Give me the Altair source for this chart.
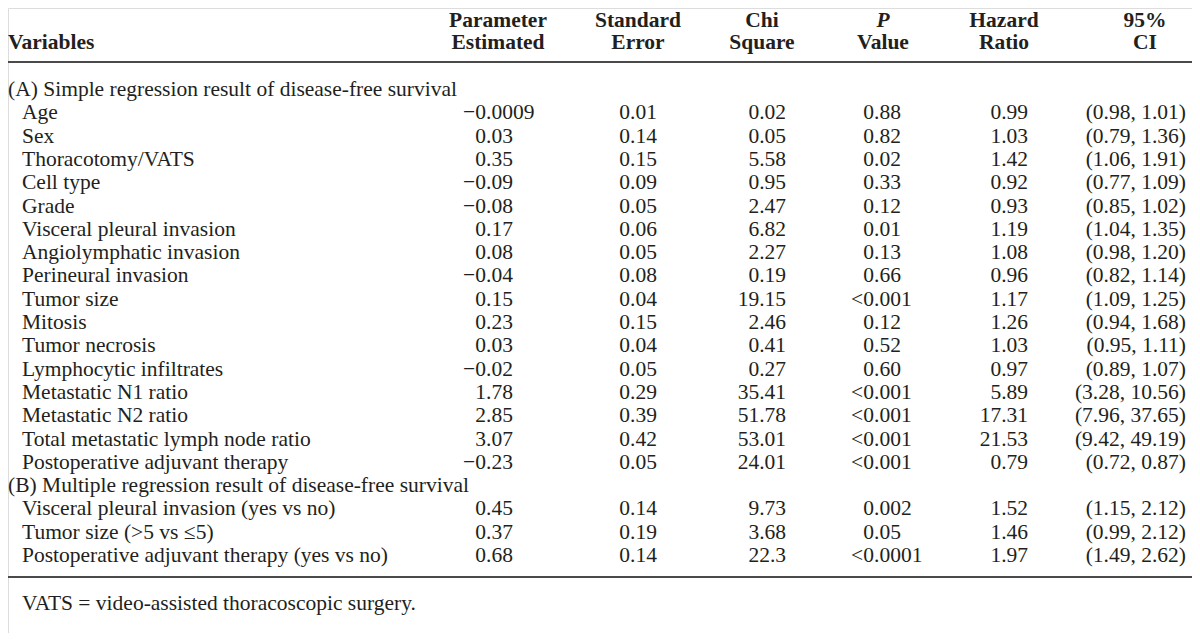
import altair as alt
import pandas as pd

# ---------------- data ----------------
section_a = "(A) Simple regression result of disease-free survival"
section_b = "(B) Multiple regression result of disease-free survival"

vars_a = ["Age", "Sex", "Thoracotomy/VATS", "Cell type", "Grade",
          "Visceral pleural invasion", "Angiolymphatic invasion",
          "Perineural invasion", "Tumor size", "Mitosis", "Tumor necrosis",
          "Lymphocytic infiltrates", "Metastatic N1 ratio", "Metastatic N2 ratio",
          "Total metastatic lymph node ratio", "Postoperative adjuvant therapy"]
param_a = ["\u22120.0009", "0.03", "0.35", "\u22120.09", "\u22120.08", "0.17", "0.08",
           "\u22120.04", "0.15", "0.23", "0.03", "\u22120.02", "1.78", "2.85", "3.07",
           "\u22120.23"]
se_a = ["0.01", "0.14", "0.15", "0.09", "0.05", "0.06", "0.05", "0.08", "0.04",
        "0.15", "0.04", "0.05", "0.29", "0.39", "0.42", "0.05"]
chi_a = ["0.02", "0.05", "5.58", "0.95", "2.47", "6.82", "2.27", "0.19", "19.15",
         "2.46", "0.41", "0.27", "35.41", "51.78", "53.01", "24.01"]
p_a = ["0.88", "0.82", "0.02", "0.33", "0.12", "0.01", "0.13", "0.66", "<0.001",
       "0.12", "0.52", "0.60", "<0.001", "<0.001", "<0.001", "<0.001"]
hr_a = ["0.99", "1.03", "1.42", "0.92", "0.93", "1.19", "1.08", "0.96", "1.17",
        "1.26", "1.03", "0.97", "5.89", "17.31", "21.53", "0.79"]
ci_a = ["(0.98, 1.01)", "(0.79, 1.36)", "(1.06, 1.91)", "(0.77, 1.09)",
        "(0.85, 1.02)", "(1.04, 1.35)", "(0.98, 1.20)", "(0.82, 1.14)",
        "(1.09, 1.25)", "(0.94, 1.68)", "(0.95, 1.11)", "(0.89, 1.07)",
        "(3.28, 10.56)", "(7.96, 37.65)", "(9.42, 49.19)", "(0.72, 0.87)"]

vars_b = ["Visceral pleural invasion (yes vs no)", "Tumor size (>5 vs \u22645)",
          "Postoperative adjuvant therapy (yes vs no)"]
param_b = ["0.45", "0.37", "0.68"]
se_b = ["0.14", "0.19", "0.14"]
chi_b = ["9.73", "3.68", "22.3"]
p_b = ["0.002", "0.05", "<0.0001"]
hr_b = ["1.52", "1.46", "1.97"]
ci_b = ["(1.15, 2.12)", "(0.99, 2.12)", "(1.49, 2.62)"]

header_first = "Variables"
header_top = ["Parameter", "Standard", "Chi", "P", "Hazard", "95%"]
header_bottom = ["Estimated", "Error", "Square", "Value", "Ratio", "CI"]
footnote = "VATS = video-assisted thoracoscopic surgery."

# ---------------- layout (styles / positions) ----------------
W, H = 1184, 625
FONT = "Liberation Serif"
FS = 21.5
INK = "#231f20"
ROW0_Y = 90.0       # page y of first body row
ROW_H = 23.3        # row pitch
def row_of(page_y):
    return (page_y - ROW0_Y) / ROW_H

ROW_HEAD1 = row_of(20.5)
ROW_HEAD2 = row_of(43)
ROW_RULE_TOP = row_of(62)
ROW_RULE_BOT = row_of(577)
ROW_FOOT = row_of(604)

X_LEFT = 8
X_INDENT = 22
X_COL_CENTER = [498, 638, 762, 883, 1004, 1145]   # header centres
DEC_PARAM, DEC_SE, DEC_P = 486, 630, 874          # decimal-point anchors
R_CHI, R_HR, R_CI = 786, 1028, 1186               # right edges

xs = alt.Scale(domain=[8, 8 + W], nice=False, zero=False)
ys = alt.Scale(domain=[row_of(8), row_of(8 + H)], nice=False, zero=False, reverse=True)

# ---------------- tables ----------------
body = []
r = 0
body.append({"row": r, "label": section_a, "x": X_LEFT})
for v in vars_a:
    r += 1
    body.append({"row": r, "label": v, "x": X_INDENT})
r += 1
body.append({"row": r, "label": section_b, "x": X_LEFT})
for v in vars_b:
    r += 1
    body.append({"row": r, "label": v, "x": X_INDENT})
body_df = pd.DataFrame(body)

rows_a = list(range(1, 1 + len(vars_a)))
rows_b = list(range(len(vars_a) + 2, len(vars_a) + 2 + len(vars_b)))

dec_cells = []
for col, anchor in [((param_a, param_b), DEC_PARAM), ((se_a, se_b), DEC_SE), ((p_a, p_b), DEC_P)]:
    for rows, vals in [(rows_a, col[0]), (rows_b, col[1])]:
        for rr, s in zip(rows, vals):
            left, right = s.split(".", 1)
            dec_cells.append({"row": rr, "x": anchor, "left": left, "right": "." + right})
dec_df = pd.DataFrame(dec_cells)

right_cells = []
for col, anchor in [((chi_a, chi_b), R_CHI), ((hr_a, hr_b), R_HR), ((ci_a, ci_b), R_CI)]:
    for rows, vals in [(rows_a, col[0]), (rows_b, col[1])]:
        for rr, s in zip(rows, vals):
            right_cells.append({"row": rr, "x": anchor, "text": s})
right_df = pd.DataFrame(right_cells)

head = []
for i, (t, b) in enumerate(zip(header_top, header_bottom)):
    head.append({"row": ROW_HEAD1, "x": X_COL_CENTER[i], "text": t, "ital": t == "P"})
    head.append({"row": ROW_HEAD2, "x": X_COL_CENTER[i], "text": b, "ital": False})
head_df = pd.DataFrame(head)
head_df_norm = head_df[~head_df["ital"]]
head_df_ital = head_df[head_df["ital"]]

var_head_df = pd.DataFrame([{"row": ROW_HEAD2, "x": X_LEFT, "text": header_first}])
rules_df = pd.DataFrame([{"row": ROW_RULE_TOP}, {"row": ROW_RULE_BOT}])
foot_df = pd.DataFrame([{"row": ROW_FOOT, "x": X_INDENT, "text": footnote}])

X = alt.X("x:Q", scale=xs, axis=None)
Y = alt.Y("row:Q", scale=ys, axis=None)

def txt(df, align, bold=False, italic=False, field="text"):
    kw = dict(align=align, baseline="middle", font=FONT, fontSize=FS, color=INK)
    if bold:
        kw["fontWeight"] = "bold"
    if italic:
        kw["fontStyle"] = "italic"
    return alt.Chart(df).mark_text(**kw).encode(x=X, y=Y, text=f"{field}:N")

layers = [
    txt(head_df_norm, "center", bold=True),
    txt(head_df_ital, "center", bold=True, italic=True),
    txt(var_head_df, "left", bold=True),
    alt.Chart(rules_df).mark_rule(color="#4a4a4a", strokeWidth=2.2).encode(
        x=alt.value(0), x2=alt.value(W), y=Y),
    txt(body_df, "left", field="label"),
    txt(dec_df, "right", field="left"),
    txt(dec_df, "left", field="right"),
    txt(right_df, "right"),
    txt(foot_df, "left"),
]

chart = alt.layer(*layers).properties(
    width=W, height=H, padding=0, autosize=alt.AutoSizeParams(type="none")
).configure_view(stroke=None).configure(background="white")

chart.save("out.html", embed_options={"renderer": "svg", "actions": False})
